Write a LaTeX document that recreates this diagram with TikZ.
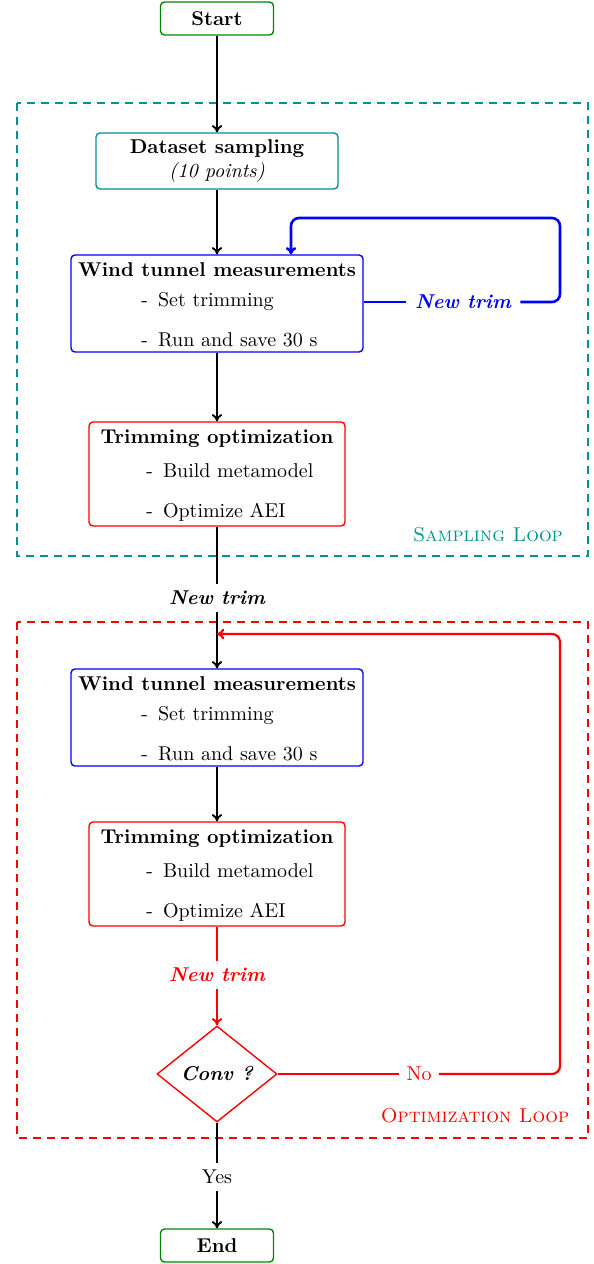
\documentclass[tikz,border=0pt]{standalone}
\usetikzlibrary{shapes.geometric,arrows.meta}
\definecolor{loopteal}{RGB}{0,145,150}
\definecolor{startgreen}{RGB}{0,135,0}
\begin{document}
\begin{tikzpicture}[x=0.5pt,y=-0.5pt,
  box/.style={draw,rounded corners=2pt,line width=0.7pt,inner sep=0pt},
  termbox/.style={box,draw=startgreen,minimum width=56.5pt,minimum height=16.5pt,font=\bfseries},
  wtbox/.style={box,draw=blue,minimum width=146pt,minimum height=48.5pt},
  tobox/.style={box,draw=red,minimum width=128pt,minimum height=52pt},
  txt/.style={inner sep=0pt,anchor=base west},
  ttl/.style={inner sep=0pt,anchor=base,font=\bfseries},
  tip/.style={-{To[length=3.6pt,width=5.2pt]}},
  flow/.style={tip,line width=0.95pt},
  plain/.style={line width=0.95pt},
  bloop/.style={line width=1.3pt,draw=blue,rounded corners=4pt},
  rloop/.style={line width=1.1pt,draw=red,rounded corners=4pt},
  lbl/.style={inner sep=3.5pt,fill=white},
  region/.style={line width=1.2pt,dash pattern=on 4pt off 3pt}]
\useasboundingbox (0,0) rectangle (594,1264);

% regions
\draw[region,draw=loopteal] (17,103) rectangle (588,556);
\draw[region,draw=red] (17,622) rectangle (588,1138);
\node[text=loopteal,inner sep=0pt] (slab) at (488,535) {\textsc{Sampling Loop}};
\node[text=red,inner sep=0pt] (olab) at (475,1116) {\textsc{Optimization Loop}};

% nodes
\node[termbox] (start) at (217,18.5) {Start};
\node[box,draw=loopteal,minimum width=121pt,minimum height=28pt,align=center] (ds) at (217,161)
  {\textbf{Dataset sampling}\\\textit{(10 points)}};

\node[wtbox] (wt1) at (217,303.5) {};
\node[ttl] (wt1t) at (217,276) {Wind tunnel measurements};
\node[txt] (wt1a) at (141,306) {-\hspace{5pt}Set trimming};
\node[txt] (wt1b) at (141,346) {-\hspace{5pt}Run and save 30 s};

\node[tobox] (to1) at (217,474) {};
\node[ttl] (to1t) at (217,443) {Trimming optimization};
\node[txt] (to1a) at (146,477) {-\hspace{5pt}Build metamodel};
\node[txt] (to1b) at (146,517) {-\hspace{5pt}Optimize AEI};

\node[lbl,font=\bfseries\itshape] (nt1) at (217,598) {New trim};

\node[wtbox] (wt2) at (217,717.5) {};
\node[ttl] (wt2t) at (217,690) {Wind tunnel measurements};
\node[txt] (wt2a) at (141,720) {-\hspace{5pt}Set trimming};
\node[txt] (wt2b) at (141,760) {-\hspace{5pt}Run and save 30 s};

\node[tobox] (to2) at (217,874) {};
\node[ttl] (to2t) at (217,843) {Trimming optimization};
\node[txt] (to2a) at (146,877) {-\hspace{5pt}Build metamodel};
\node[txt] (to2b) at (146,917) {-\hspace{5pt}Optimize AEI};

\node[lbl,font=\bfseries\itshape,text=red] (nt2) at (217,975) {New trim};

\node[diamond,draw=red,line width=0.7pt,minimum width=60pt,minimum height=48pt,inner sep=0pt,aspect=1.25,font=\bfseries\itshape] (conv) at (217,1074) {Conv ?};

\node[lbl] (yes) at (217,1177) {Yes};
\node[termbox] (end) at (217,1245.5) {End};

\node[lbl,inner sep=4.5pt,font=\bfseries\itshape,text=blue] (nt0) at (463,302) {New trim};
\node[lbl,text=red] (no) at (419,1074) {No};

\coordinate (join) at (217,634);
\coordinate (bcorner1) at (560,302);
\coordinate (bcorner2) at (560,218);
\coordinate (bcorner3) at (291,218);
\coordinate (rcorner1) at (560,1074);
\coordinate (rcorner2) at (560,634);

% connectors
\draw[flow] (start) -- (ds);
\draw[flow] (ds) -- (wt1);
\draw[flow] (wt1) -- (to1);
\draw[plain] (to1) -- (nt1);
\draw[flow] (nt1) -- (wt2);
\draw[flow] (wt2) -- (to2);
\draw[plain,draw=red] (to2) -- (nt2);
\draw[flow,draw=red] (nt2) -- (conv);
\draw[plain] (conv) -- (yes);
\draw[flow] (yes) -- (end);

\draw[bloop] (wt1.east |- nt0) -- (nt0.west);
\draw[bloop,tip] (nt0.east) -- (bcorner1) -- (bcorner2) -- (bcorner3) -- (bcorner3 |- wt1.north);
\draw[rloop] (conv.east) -- (no.west);
\draw[rloop,tip] (no.east) -- (rcorner1) -- (rcorner2) -- (join);
\end{tikzpicture}
\end{document}
